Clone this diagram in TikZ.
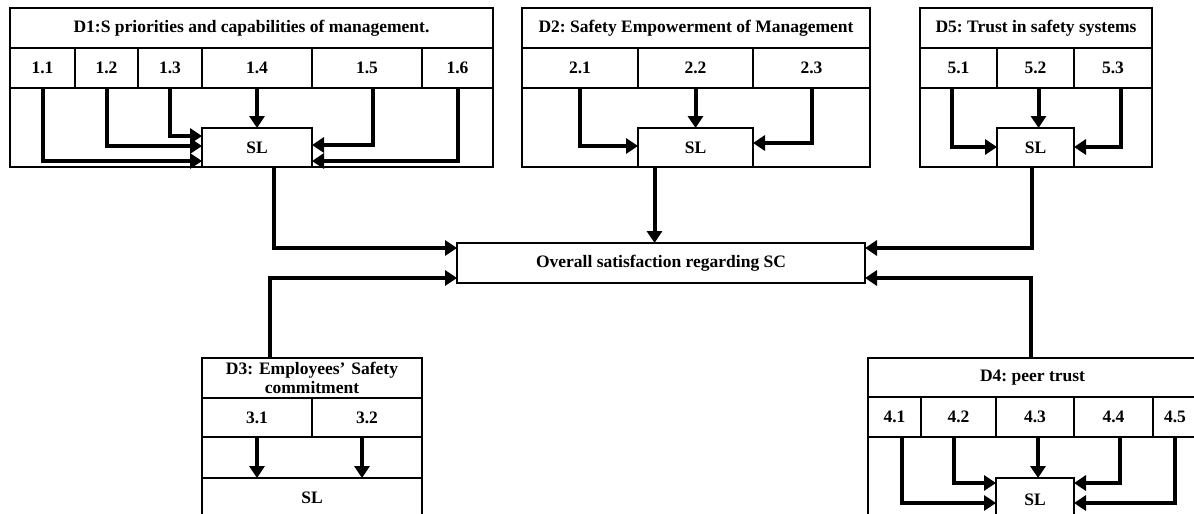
\documentclass[tikz,border=0pt]{standalone}
\usepackage{fontspec}
\setmainfont{Liberation Serif}
\usetikzlibrary{arrows.meta,calc}
\frenchspacing
\begin{document}
\begin{tikzpicture}[x=1pt,y=-1pt,
  cell/.style={draw, line width=1.6pt, inner sep=0pt, outer sep=0pt, anchor=north west,
    font=\fontsize{17.5}{19}\selectfont\bfseries, align=center},
  arr/.style={line width=4pt, -{Triangle[length=12pt,width=15pt]}},
]
\clip (0,0) rectangle (1194,514);
\fill[white] (0,0) rectangle (1194,514);

% ---------- D1 ----------
\node[cell, minimum width=483pt, minimum height=159pt] (d1f) at (10,8) {};
\node[cell, minimum width=483pt, minimum height=40pt] (d1t) at (10,8) {D1:S priorities and capabilities of management.};
\node[cell, minimum width=65pt, minimum height=40pt] (c11) at (10,48) {1.1};
\node[cell, minimum width=63pt, minimum height=40pt] (c12) at (75,48) {1.2};
\node[cell, minimum width=64pt, minimum height=40pt] (c13) at (138,48) {1.3};
\node[cell, minimum width=110pt, minimum height=40pt] (c14) at (202,48) {1.4};
\node[cell, minimum width=110pt, minimum height=40pt] (c15) at (312,48) {1.5};
\node[cell, minimum width=71pt, minimum height=40pt] (c16) at (422,48) {1.6};
\node[cell, minimum width=110pt, minimum height=39pt] (sl1) at (202,128) {SL};
\draw[arr] (c11.south) |- ([yshift=6pt]sl1.south west);
\draw[arr] (c12.south) |- ([yshift=21pt]sl1.south west);
\draw[arr] (c13.south) |- ([yshift=31pt]sl1.south west);
\draw[arr] (c14.south) -- (sl1.north);
\draw[arr] ([xshift=6pt]c15.south) |- ([yshift=22pt]sl1.south east);
\draw[arr] (c16.south) |- ([yshift=6pt]sl1.south east);

% ---------- D2 ----------
\node[cell, minimum width=348pt, minimum height=159pt] (d2f) at (522,8) {};
\node[cell, minimum width=348pt, minimum height=40pt] (d2t) at (522,8) {D2: Safety Empowerment of Management};
\node[cell, minimum width=116pt, minimum height=40pt] (c21) at (522,48) {2.1};
\node[cell, minimum width=115pt, minimum height=40pt] (c22) at (638,48) {2.2};
\node[cell, minimum width=117pt, minimum height=40pt] (c23) at (753,48) {2.3};
\node[cell, minimum width=115pt, minimum height=39pt] (sl2) at (638,128) {SL};
\draw[arr] (c21.south) |- ([yshift=21pt]sl2.south west);
\draw[arr] (c22.south) -- (sl2.north);
\draw[arr] (c23.south) |- ([yshift=24pt]sl2.south east);

% ---------- D5 ----------
\node[cell, minimum width=232pt, minimum height=159pt] (d5f) at (920,8) {};
\node[cell, minimum width=232pt, minimum height=40pt] (d5t) at (920,8) {D5: Trust in safety systems};
\node[cell, minimum width=77pt, minimum height=40pt] (c51) at (920,48) {5.1};
\node[cell, minimum width=77pt, minimum height=40pt] (c52) at (997,48) {5.2};
\node[cell, minimum width=78pt, minimum height=40pt] (c53) at (1074,48) {5.3};
\node[cell, minimum width=77pt, minimum height=39pt] (sl5) at (997,128) {SL};
\draw[arr] ([xshift=-7pt]c51.south) |- ([yshift=20pt]sl5.south west);
\draw[arr] ([xshift=3pt]c52.south) -- ([xshift=3pt]sl5.north);
\draw[arr] ([xshift=8pt]c53.south) |- ([yshift=20pt]sl5.south east);

% ---------- Overall ----------
\node[cell, minimum width=408pt, minimum height=40pt] (ov) at (457,243) {Overall satisfaction regarding SC};
\draw[arr] ([xshift=17pt]sl1.south) |- ([yshift=-5pt]ov.north west);
\draw[arr] ([xshift=-41pt]sl2.south) -- ([xshift=-41pt]sl2.south |- ov.north);
\draw[arr] ([xshift=-4pt]sl5.south) |- ([yshift=-5pt]ov.north east);

% ---------- D3 ----------
\node[cell, minimum width=220pt, minimum height=170pt] (d3f) at (202,358) {};
\node[cell, minimum width=220pt, minimum height=40pt, text width=210pt] (d3t) at (202,358) {D3: Employees’ Safety\\commitment};
\node[cell, minimum width=110pt, minimum height=39pt] (c31) at (202,398) {3.1};
\node[cell, minimum width=110pt, minimum height=39pt] (c32) at (312,398) {3.2};
\node[cell, minimum width=220pt, minimum height=40pt] (sl3) at (202,478) {SL};
\draw[arr] (c31.south) -- (c31.south |- sl3.north);
\draw[arr] ([xshift=-5pt]c32.south) -- ([xshift=-5pt]c32.south |- sl3.north);
\draw[arr] ([xshift=-42pt]d3t.north) |- ([yshift=5pt]ov.south west);

% ---------- D4 ----------
\node[cell, minimum width=329pt, minimum height=170pt] (d4f) at (868,358) {};
\node[cell, minimum width=329pt, minimum height=39pt] (d4t) at (868,358) {D4: peer trust};
\node[cell, minimum width=53pt, minimum height=40pt] (c41) at (868,397) {4.1};
\node[cell, minimum width=75pt, minimum height=40pt] (c42) at (921,397) {4.2};
\node[cell, minimum width=78pt, minimum height=40pt] (c43) at (996,397) {4.3};
\node[cell, minimum width=79pt, minimum height=40pt] (c44) at (1074,397) {4.4};
\node[cell, minimum width=44pt, minimum height=40pt] (c45) at (1153,397) {4.5};
\node[cell, minimum width=78pt, minimum height=44pt] (sl4) at (996,478) {SL};
\draw[arr] ([xshift=7pt]c41.south) |- ([yshift=-25pt]sl4.north west);
\draw[arr] ([xshift=-5pt]c42.south) |- ([yshift=-5pt]sl4.north west);
\draw[arr] ([xshift=3pt]c43.south) -- ([xshift=3pt]sl4.north);
\draw[arr] ([xshift=6pt]c44.south) |- ([yshift=-5pt]sl4.north east);
\draw[arr] (c45.south) |- ([yshift=-25pt]sl4.north east);
\draw[arr] ([xshift=-2pt]d4t.north) |- ([yshift=5pt]ov.south east);
\end{tikzpicture}
\end{document}
